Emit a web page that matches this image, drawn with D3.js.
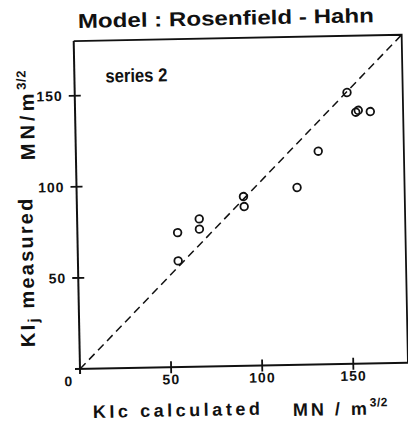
<!DOCTYPE html>
<html>
<head>
<meta charset="utf-8">
<script src="https://cdn.jsdelivr.net/npm/d3@7"></script>
<style>
  body { margin: 0; background: #fff; }
  svg { display: block; }
  text { font-family: "Liberation Sans", Arial, sans-serif; font-weight: bold; fill: #111; }
</style>
</head>
<body>
<div id="chart"></div>
<script>
// == DATA ==
const kicCalculated = [55, 55, 67, 67, 91.5, 91.8, 121, 133, 149.4, 154, 155.4, 162];
const kijMeasured   = [73.8, 58.3, 81.1, 75.5, 92.9, 87.4, 97.3, 117, 148.9, 138, 139, 138.2];
const tickValues = [50, 100, 150];

// == CONFIG ==
const W = 408, H = 432;
const ORIGIN = [80, 369];   // page position of (0,0)
const TILT = -1.1;          // the scan is slightly rotated
const SIZE = 328;           // side of the frame in px
const INK = '#111';

const svg = d3.select('#chart').append('svg')
  .attr('width', W)
  .attr('height', H);

svg.append('rect').attr('width', W).attr('height', H).attr('fill', '#fff');

const x = d3.scaleLinear().domain([0, 180]).range([0, SIZE]);
const y = d3.scaleLinear().domain([0, 180]).range([0, -SIZE]);

const g = svg.append('g')
  .attr('transform', `translate(${ORIGIN[0]},${ORIGIN[1]}) rotate(${TILT})`);

// Frame (top + right)
g.append('path')
  .attr('d', `M0,${y(180)}H${x(180)}V0`)
  .attr('fill', 'none')
  .attr('stroke', INK)
  .attr('stroke-width', 1.8);

// Axes
g.append('line')
  .attr('x1', -5).attr('x2', x(180) + 4)
  .attr('y1', 0).attr('y2', 0)
  .attr('stroke', INK).attr('stroke-width', 2);
g.append('line')
  .attr('x1', 0).attr('x2', 0)
  .attr('y1', 5).attr('y2', y(180))
  .attr('stroke', INK).attr('stroke-width', 2);

// Cross ticks
g.selectAll('line.xt').data(tickValues).enter().append('line')
  .attr('class', 'xt')
  .attr('x1', d => x(d)).attr('x2', d => x(d))
  .attr('y1', -6).attr('y2', 6)
  .attr('stroke', INK).attr('stroke-width', 1.8);
g.selectAll('line.yt').data(tickValues).enter().append('line')
  .attr('class', 'yt')
  .attr('x1', -6).attr('x2', 6)
  .attr('y1', d => y(d)).attr('y2', d => y(d))
  .attr('stroke', INK).attr('stroke-width', 1.8);

// Tick labels
g.selectAll('text.xl').data(tickValues).enter().append('text')
  .attr('class', 'xl')
  .attr('x', d => x(d))
  .attr('y', 17)
  .attr('text-anchor', 'middle')
  .attr('font-size', 14)
  .attr('letter-spacing', 1)
  .text(d => d);
g.append('text')
  .attr('x', -12).attr('y', 17)
  .attr('text-anchor', 'middle')
  .attr('font-size', 14)
  .text('0');
g.selectAll('text.yl').data(tickValues).enter().append('text')
  .attr('class', 'yl')
  .attr('x', -12)
  .attr('y', d => y(d) + 5)
  .attr('text-anchor', 'end')
  .attr('font-size', 14)
  .attr('letter-spacing', 1)
  .text(d => d);

// 1:1 dashed line
g.append('line')
  .attr('x1', x(0)).attr('y1', y(0))
  .attr('x2', x(180)).attr('y2', y(180))
  .attr('stroke', INK)
  .attr('stroke-width', 1.5)
  .attr('stroke-dasharray', '8,5');

// Points
g.selectAll('circle.pt').data(kicCalculated).enter().append('circle')
  .attr('class', 'pt')
  .attr('cx', d => x(d))
  .attr('cy', (d, i) => y(kijMeasured[i]))
  .attr('r', 3.8)
  .attr('fill', 'none')
  .attr('stroke', INK)
  .attr('stroke-width', 1.8);

// series label
g.append('text')
  .attr('x', 31).attr('y', -286)
  .attr('font-size', 19)
  .attr('textLength', 62)
  .attr('lengthAdjust', 'spacingAndGlyphs')
  .text('series 2');

// == TITLES ==
svg.append('text')
  .attr('x', 78).attr('y', 25)
  .attr('font-size', 20)
  .attr('textLength', 296)
  .attr('lengthAdjust', 'spacingAndGlyphs')
  .attr('transform', `rotate(${TILT},228,25)`)
  .text('Model : Rosenfield  -  Hahn');

// X label
svg.append('text')
  .attr('x', 93).attr('y', 418)
  .attr('font-size', 18)
  .attr('textLength', 167)
  .attr('transform', `rotate(${TILT},93,418)`)
  .text('KIc  calculated');
const xu = svg.append('text')
  .attr('x', 293).attr('y', 416)
  .attr('font-size', 18)
  .attr('letter-spacing', 3)
  .attr('transform', `rotate(${TILT},293,416)`);
xu.append('tspan').text('MN / m');
xu.append('tspan').attr('font-size', 12).attr('dy', -8).attr('letter-spacing', 0.5).text('3/2');

// Y label
const yl = svg.append('text')
  .attr('transform', `translate(35,347) rotate(${-90 + TILT})`)
  .attr('font-size', 20)
  .attr('letter-spacing', 2.2);
yl.append('tspan').text('KI');
yl.append('tspan').attr('font-size', 15).attr('dy', 4).text('j');
yl.append('tspan').attr('dy', -4).text('  measured');
const yu = svg.append('text')
  .attr('transform', `translate(35,160) rotate(${-90 + TILT})`)
  .attr('font-size', 20)
  .attr('letter-spacing', 4);
yu.append('tspan').text('MN/m');
yu.append('tspan').attr('font-size', 13).attr('dy', -8).attr('letter-spacing', 0.5).text('3/2');
</script>
</body>
</html>
